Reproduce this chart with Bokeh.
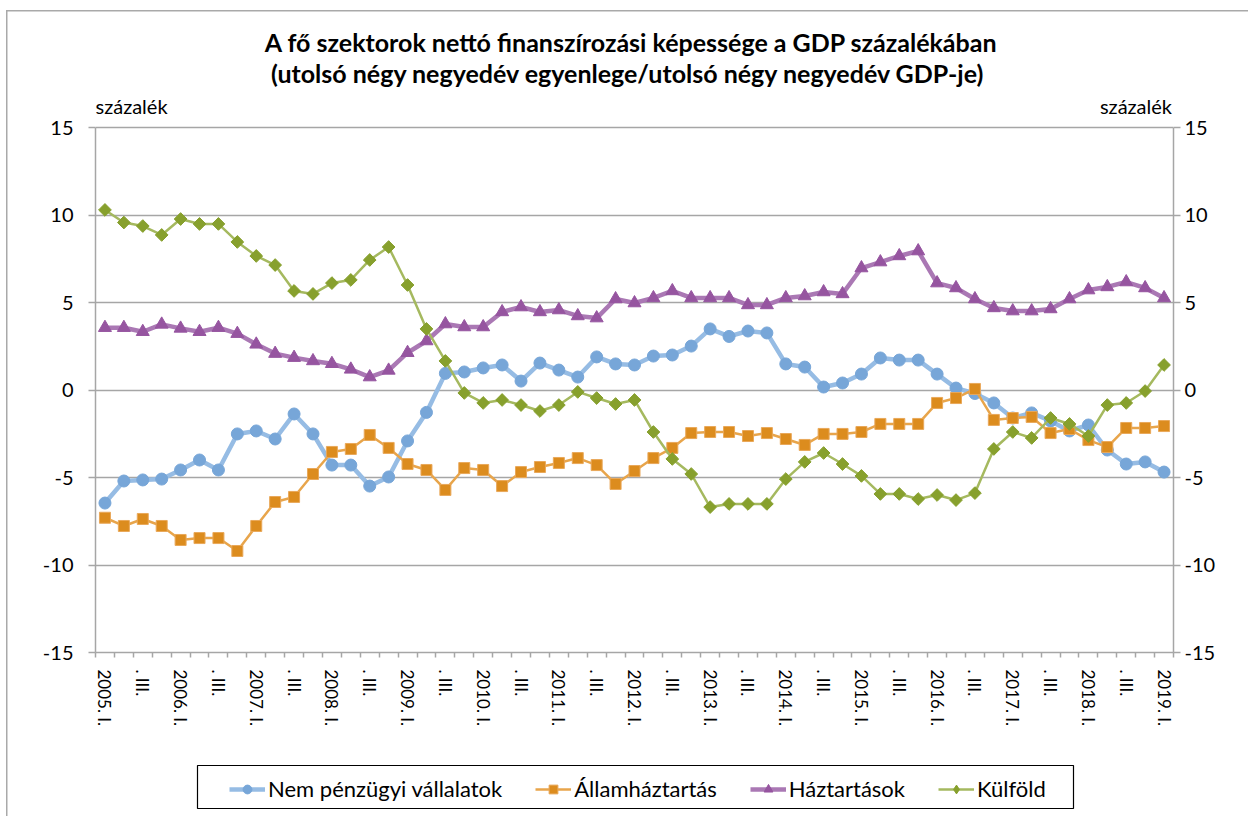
import numpy as np
from bokeh.plotting import figure
from bokeh.layouts import column
from bokeh.models import Range1d, LinearAxis, FixedTicker, Label, Legend, LegendItem, BoxAnnotation
from bokeh.embed import file_html
from bokeh.resources import INLINE

# ---------------- data ----------------
years = list(range(2005, 2020))
n_quarters = 57  # 2005 Q1 .. 2019 Q1

tick_labels = []
for i in range(n_quarters):
    q = i % 4
    if q == 0:
        tick_labels.append(f"{years[i // 4]}. I.")
    elif q == 2:
        tick_labels.append(". III.")
    else:
        tick_labels.append("")

nem_penzugyi = [-6.46, -5.2, -5.14, -5.09, -4.57, -4.0, -4.57, -2.51, -2.34, -2.8, -1.37, -2.51,
                -4.29, -4.29, -5.49, -4.97, -2.91,
                -1.28, 0.95, 1.03, 1.26, 1.43, 0.51, 1.54, 1.14, 0.74, 1.89, 1.49, 1.43, 1.94,
                2.0, 2.51, 3.49, 3.06,
                3.37, 3.26, 1.49, 1.31, 0.17, 0.4, 0.91, 1.83, 1.71, 1.71, 0.91, 0.11, -0.2,
                -0.74, -1.6, -1.31, -1.77, -2.34, -2.0, -3.43, -4.23, -4.11, -4.69]

allamhaztartas = [-7.3, -7.77, -7.37, -7.77, -8.57, -8.46, -8.46, -9.2, -7.77, -6.4, -6.11, -4.8,
                  -3.54, -3.37, -2.57, -3.31, -4.23,
                  -4.57, -5.71, -4.46, -4.57, -5.49, -4.69, -4.4, -4.17, -3.89, -4.29, -5.37,
                  -4.63, -3.89, -3.31, -2.46, -2.4, -2.4,
                  -2.63, -2.46, -2.8, -3.14, -2.51, -2.51, -2.4, -1.94, -1.94, -1.94, -0.74,
                  -0.46, 0.06, -1.71, -1.6, -1.54, -2.46, -2.23, -2.86, -3.26, -2.17, -2.17, -2.06]

haztartasok = [3.56, 3.56, 3.33, 3.75, 3.52, 3.33, 3.56, 3.22, 2.61, 2.08, 1.85, 1.66, 1.5, 1.18,
               0.74, 1.12, 2.13, 2.8,
               3.77, 3.6, 3.6, 4.46, 4.74, 4.46, 4.57, 4.23, 4.11, 5.2, 4.97, 5.26, 5.66, 5.26,
               5.26, 5.26,
               4.86, 4.86, 5.26, 5.37, 5.6, 5.49, 6.97, 7.31, 7.66, 7.94, 6.11, 5.83, 5.2, 4.69,
               4.51, 4.51, 4.63, 5.2, 5.71, 5.89, 6.17, 5.83, 5.26]

kulfold = [10.29, 9.57, 9.37, 8.86, 9.77, 9.49, 9.49, 8.46, 7.66, 7.14, 5.66, 5.49, 6.11, 6.29,
           7.43, 8.17, 6.0,
           3.49, 1.66, -0.17, -0.74, -0.57, -0.86, -1.2, -0.86, -0.11, -0.46, -0.8, -0.57,
           -2.4, -3.94, -4.8, -6.69, -6.51,
           -6.51, -6.51, -5.09, -4.11, -3.6, -4.23, -4.91, -5.94, -5.94, -6.23, -6.0, -6.29,
           -5.89, -3.37, -2.4, -2.74, -1.6, -1.94, -2.63, -0.86, -0.74, -0.06, 1.43]

series_names = ["Nem pénzügyi vállalatok", "Államháztartás", "Háztartások", "Külföld"]
y_ticks = [-15, -10, -5, 0, 5, 10, 15]
y_tick_labels = ["-15", "-10", "-5", "0", "5", "10", "15"]

x = list(range(n_quarters))

FONT = "Lato"
GRID = "#a6a6a6"

# series styles: (line colour, line width, marker, marker size, fill, outline, angle)
styles = [
    ("#96bce4", 4.5, "circle", 12, "#77a6d8", "#77a6d8", 0.0),
    ("#e8a54b", 2.5, "square", 11, "#dc8c1e", "#e9a85a", 0.0),
    ("#aa78b4", 4.5, "triangle", 13, "#9655a0", "#9655a0", 0.0),
    ("#a5b95f", 2.5, "square", 9, "#87a02d", "#87a02d", np.pi / 4),
]
legend_markers = [("circle", 12), ("square", 11), ("triangle", 13), ("diamond", 14)]
series_values = [nem_penzugyi, allamhaztartas, haztartasok, kulfold]

# frame spans from the canvas top down to the -15 line; 17.5 px per unit
FRAME_H = 652
PX_PER_UNIT = 17.5
y_top = FRAME_H / PX_PER_UNIT - 15
MAIN_H = 742
LEG_H = 816 - MAIN_H
W = 1248
FRAME_L, FRAME_R = 95, 1173

p = figure(width=W, height=MAIN_H,
           x_range=Range1d(-0.5, n_quarters - 0.5), y_range=Range1d(-15, y_top),
           output_backend="svg", toolbar_location=None,
           min_border_left=FRAME_L, min_border_right=W - FRAME_R, min_border_top=0,
           min_border_bottom=MAIN_H - FRAME_H)
p.outline_line_color = None
p.background_fill_alpha = 0
p.border_fill_alpha = 0

# y grid
p.ygrid.ticker = FixedTicker(ticks=y_ticks)
p.ygrid.grid_line_color = GRID
p.ygrid.grid_line_width = 1.5
p.xgrid.grid_line_color = None

overrides = {t: s for t, s in zip(y_ticks, y_tick_labels)}

def style_y(ax, standoff):
    ax.ticker = FixedTicker(ticks=y_ticks)
    ax.bounds = (-15, 15)
    ax.major_label_overrides = overrides
    ax.major_tick_out = 7
    ax.major_tick_in = 0
    ax.minor_tick_line_color = None
    ax.axis_line_color = GRID
    ax.axis_line_width = 1.5
    ax.major_tick_line_color = GRID
    ax.major_tick_line_width = 1.5
    ax.major_label_text_font = FONT
    ax.major_label_text_font_size = "20px"
    ax.major_label_text_color = "black"
    ax.major_label_standoff = standoff

style_y(p.yaxis[0], 15)
yr = LinearAxis()
style_y(yr, 4)
p.add_layout(yr, "right")

# x axis
xa = p.xaxis[0]
label_pos = [i for i in x if tick_labels[i]]
xa.ticker = FixedTicker(ticks=label_pos, minor_ticks=[i - 0.5 for i in range(n_quarters + 1)])
xa.major_label_overrides = {i: tick_labels[i] for i in label_pos}
xa.major_tick_line_color = None
xa.major_tick_out = 0
xa.major_tick_in = 0
xa.minor_tick_out = 5
xa.minor_tick_in = 0
xa.minor_tick_line_color = GRID
xa.minor_tick_line_width = 1.5
xa.axis_line_color = GRID
xa.axis_line_width = 1.5
xa.major_label_orientation = "vertical"
xa.major_label_text_font = FONT
xa.major_label_text_font_size = "17px"
xa.major_label_text_color = "black"
xa.major_label_standoff = 12

# series
for vals, (lc, lw, mk, ms, fc, oc, ang) in zip(series_values, styles):
    p.line(x, vals, line_color=lc, line_width=lw)
    p.scatter(x, vals, marker=mk, size=ms, fill_color=fc, line_color=oc, angle=ang)

# titles and unit labels
def y_at(py):
    """data y for a pixel row py (from canvas top)"""
    return y_top - py / PX_PER_UNIT

title_kw = dict(text_align="center", text_baseline="middle", text_font=FONT,
                text_font_size="25px", text_font_style="bold", text_color="black")
p.add_layout(Label(x=28, y=y_at(41),
                   text="A fő szektorok nettó finanszírozási  képessége a GDP százalékában", **title_kw))
p.add_layout(Label(x=28, y=y_at(72),
                   text="(utolsó  négy negyedév egyenlege/utolsó  négy negyedév GDP-je)", **title_kw))
unit_kw = dict(text_baseline="middle", text_font=FONT, text_font_size="20px", text_color="black")
p.add_layout(Label(x=-0.5, y=y_at(105), text="százalék", text_align="left", **unit_kw))
p.add_layout(Label(x=56.42, y=y_at(105), text="százalék", text_align="right", **unit_kw))

# ---------------- legend strip ----------------
# frame of this strip is aligned with the main frame; its ranges are page pixels
lf = figure(width=W, height=LEG_H, x_range=Range1d(FRAME_L, FRAME_R), y_range=Range1d(0, LEG_H),
            output_backend="svg", toolbar_location=None,
            min_border_left=FRAME_L, min_border_right=W - FRAME_R, min_border_top=0,
            min_border_bottom=0)
lf.axis.visible = False
lf.grid.visible = False
lf.outline_line_color = None
lf.background_fill_alpha = 0
lf.border_fill_alpha = 0

# legend box outline (page pixel coordinates: x 197..1073, y 765..808)
lf.add_layout(BoxAnnotation(left=197, right=1073, top=816 - 765, bottom=816 - 808,
                            fill_color="white", fill_alpha=1,
                            line_color="black", line_alpha=1, line_width=1.2))

items = []
for name, vals, (lc, lw, mk, ms, fc, oc, ang), (lmk, lms) in zip(series_names, series_values,
                                                                  styles, legend_markers):
    # proxies: the series data lie outside this strip's ranges, so only the legend shows them
    rl = lf.line(x, vals, line_color=lc, line_width=lw)
    rm = lf.scatter(x, vals, marker=lmk, size=lms, fill_color=fc, line_color=oc)
    items.append(LegendItem(label=name, renderers=[rl, rm]))

legend = Legend(items=items, orientation="horizontal", location=(134, 14))
legend.glyph_width = 36
legend.glyph_height = 22
legend.label_standoff = 3
legend.spacing = 33
legend.padding = 9
legend.margin = 0
legend.border_line_color = None
legend.background_fill_alpha = 0
legend.label_text_font = FONT
legend.label_text_font_size = "22px"
legend.label_text_color = "black"
lf.add_layout(legend, "center")

# thin grey chart-area border (top and left edges, as in the source image)
border_css = {
    "background-color": "white",
    "background-image": "linear-gradient(#a9a9a9, #a9a9a9), linear-gradient(#a9a9a9, #a9a9a9)",
    "background-size": "100% 1.5px, 1.5px 100%",
    "background-position": "6px 10px, 6px 10px",
    "background-repeat": "no-repeat",
}
layout = column(p, lf, spacing=0, styles=border_css)
open("out.html", "w").write(file_html(layout, INLINE))
